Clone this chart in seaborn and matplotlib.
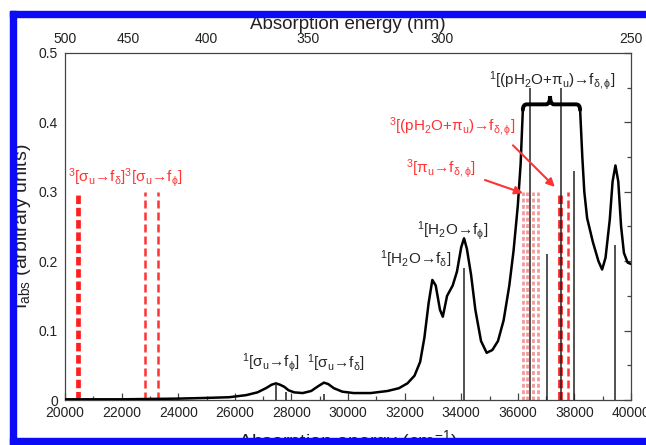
import pandas as pd
import matplotlib
matplotlib.use("Agg")
import matplotlib.pyplot as plt
from matplotlib.patches import Rectangle, PathPatch
from matplotlib.path import Path
from matplotlib.ticker import MultipleLocator, FuncFormatter
import seaborn as sns

# spectrum (two pieces, the peak top is cut by the brace)
spec_cm_a = [20000, 21000, 22000, 23000, 24000, 25000, 25800, 26400, 26800, 27100,
             27300, 27450, 27600, 27750, 27900, 28100, 28400, 28700, 28950, 29150,
             29300, 29500, 29800, 30200, 30800, 31400, 31800, 32100, 32350, 32550,
             32700, 32850, 32980, 33100, 33250, 33350, 33500, 33700, 33850, 34000,
             34100, 34200, 34350, 34500, 34700, 34900, 35100, 35300, 35500, 35700,
             35850, 36000, 36100, 36180]
spec_abs_a = [0.001, 0.001, 0.001, 0.0015, 0.002, 0.003, 0.004, 0.007, 0.011, 0.017,
              0.022, 0.024, 0.022, 0.019, 0.014, 0.011, 0.010, 0.013, 0.020, 0.025,
              0.023, 0.017, 0.012, 0.010, 0.010, 0.013, 0.017, 0.024, 0.035, 0.055,
              0.090, 0.140, 0.173, 0.165, 0.130, 0.120, 0.150, 0.165, 0.185, 0.220,
              0.233, 0.218, 0.180, 0.130, 0.085, 0.068, 0.072, 0.085, 0.115, 0.165,
              0.215, 0.280, 0.340, 0.420]
spec_cm_b = [38200, 38280, 38350, 38450, 38650, 38850, 38980, 39100, 39250, 39350,
             39450, 39550, 39650, 39750, 39880, 40000]
spec_abs_b = [0.420, 0.350, 0.300, 0.262, 0.228, 0.200, 0.188, 0.205, 0.260, 0.315,
              0.338, 0.315, 0.250, 0.212, 0.198, 0.196]

# singlet sticks (black)
stick_cm = [27450, 27800, 29150, 34100, 36430, 37030, 37530, 37990, 39430]
stick_h = [0.022, 0.012, 0.008, 0.19, 0.45, 0.21, 0.45, 0.33, 0.223]

# triplet sticks (red)
trip_bold_cm = [20460, 37480]
trip_bold_h = [0.3, 0.3]
trip_mid_cm = [22830, 23270, 37780]
trip_mid_h = [0.3, 0.3, 0.3]
trip_light_cm = [36200, 36330, 36540, 36700]
trip_light_h = [0.3, 0.3, 0.3, 0.3]

nm_ticks = [500, 450, 400, 350, 300, 250]

sns.set_theme(style="white")
plt.rcParams['font.family'] = ['Liberation Sans', 'DejaVu Sans']
plt.rcParams['mathtext.fontset'] = 'custom'
plt.rcParams['mathtext.rm'] = 'Liberation Sans'
plt.rcParams['mathtext.it'] = 'Liberation Sans:italic'
plt.rcParams['mathtext.bf'] = 'Liberation Sans:bold'
plt.rcParams['mathtext.default'] = 'regular'

fig = plt.figure(figsize=(6.46, 4.45), dpi=100)
ax = fig.add_axes([65/646, 45/445, 566/646, 347/445])

df = pd.DataFrame({
    "cm": spec_cm_a + spec_cm_b,
    "abs": spec_abs_a + spec_abs_b,
    "seg": [0]*len(spec_cm_a) + [1]*len(spec_cm_b),
})

red = '#ff3333'
ax.vlines(trip_light_cm, 0, trip_light_h, color='#f09a9a', lw=2.0,
          linestyles=(0, (1.4, 0.9)), zorder=2)
ax.vlines(trip_mid_cm, 0, trip_mid_h, color=red, lw=1.8,
          linestyles=(0, (3.2, 1.6)), zorder=2)
ax.vlines(trip_bold_cm, 0, trip_bold_h, color='#ff1f1f', lw=3.4,
          linestyles=(0, (1.8, 0.8)), zorder=2)
ax.vlines(stick_cm, 0, stick_h, color='#222222', lw=1.1, zorder=3)
sns.lineplot(data=df, x="cm", y="abs", units="seg", estimator=None,
             color='black', lw=1.8, ax=ax, legend=False, zorder=4)

# curly brace over the cut peak
x0, x1, xm, yb = 36180, 38200, 37140, 0.426
r, h, e = 140, 0.012, 0.008
verts = [(x0, yb - e), (x0, yb), (x0 + r, yb), (xm - r, yb), (xm, yb), (xm, yb + h),
         (xm, yb), (xm + r, yb), (x1 - r, yb), (x1, yb), (x1, yb - e)]
codes = [Path.MOVETO, Path.CURVE3, Path.CURVE3, Path.LINETO, Path.CURVE3, Path.CURVE3,
         Path.CURVE3, Path.CURVE3, Path.LINETO, Path.CURVE3, Path.CURVE3]
ax.add_patch(PathPatch(Path(verts, codes), fill=False, lw=2.8, ec='black',
                       capstyle='round', zorder=5))

fs = 11
ax.text(20100, 0.304, r'$^3$[σ$_u$→f$_\delta$]$^3$[σ$_u$→f$_\phi$]', color=red,
        fontsize=fs, ha='left', va='bottom')
ax.text(27280, 0.037, r'$^1$[σ$_u$→f$_\phi$]', fontsize=fs, ha='center', va='bottom')
ax.text(29580, 0.037, r'$^1$[σ$_u$→f$_\delta$]', fontsize=fs, ha='center', va='bottom')
ax.text(32400, 0.188, r'$^1$[H$_2$O→f$_\delta$]', fontsize=fs, ha='center', va='bottom')
ax.text(33680, 0.228, r'$^1$[H$_2$O→f$_\phi$]', fontsize=fs, ha='center', va='bottom')
ax.text(37210, 0.444, r'$^1$[(pH$_2$O+π$_u$)→f$_{\delta,\phi}$]', fontsize=fs,
        ha='center', va='bottom')
ax.text(33680, 0.377, r'$^3$[(pH$_2$O+π$_u$)→f$_{\delta,\phi}$]', color=red,
        fontsize=fs, ha='center', va='bottom')
ax.text(33290, 0.317, r'$^3$[π$_u$→f$_{\delta,\phi}$]', color=red,
        fontsize=fs, ha='center', va='bottom')

arrow = dict(arrowstyle='-|>', color=red, lw=1.5, mutation_scale=12, shrinkA=0, shrinkB=0)
ax.annotate('', xy=(37310, 0.307), xytext=(35830, 0.367), arrowprops=arrow, zorder=6)
ax.annotate('', xy=(36180, 0.298), xytext=(34840, 0.317), arrowprops=arrow, zorder=6)

ax.set_xlim(20000, 40000)
ax.set_ylim(0, 0.5)
ax.xaxis.set_major_locator(MultipleLocator(2000))
ax.xaxis.set_minor_locator(MultipleLocator(1000))
ax.yaxis.set_major_locator(MultipleLocator(0.1))
ax.yaxis.set_minor_locator(MultipleLocator(0.05))
ax.yaxis.set_major_formatter(FuncFormatter(lambda v, _: '0' if abs(v) < 1e-9 else f'{v:.1f}'))
ax.tick_params(which='both', direction='in', top=True, right=True, color='#444444',
               width=0.9, labelsize=10, labelcolor='#222222')
ax.tick_params(which='major', length=5)
ax.tick_params(which='minor', length=3)
ax.tick_params(axis='x', pad=4)
ax.tick_params(axis='y', pad=5)
for s in ax.spines.values():
    s.set_color('#444444')
    s.set_linewidth(0.9)

ax.set_xlabel(r'Absorption energy (cm$^{-1}$)', fontsize=14, color='#222222')
ax.xaxis.set_label_coords(0.5, -0.082)
ax.set_ylabel(r'I$_{abs}$ (arbitrary units)', fontsize=14, color='#222222')
ax.yaxis.set_label_coords(-0.056, 0.5)

ax_top = ax.twiny()
ax_top.set_xlim(ax.get_xlim())
ax_top.set_xticks([1e7 / n for n in nm_ticks])
ax_top.set_xticklabels([str(n) for n in nm_ticks])
ax_top.tick_params(axis='x', length=0, pad=5, labelsize=10, labelcolor='#222222')
ax_top.set_xlabel('Absorption energy (nm)', fontsize=13.5, color='#222222')
ax_top.xaxis.set_label_coords(0.5, 1.068)
for s in ax_top.spines.values():
    s.set_visible(False)

# blue frame around the figure
blue = '#0b0bf5'
W, H = 646, 445
fig.add_artist(Rectangle((10/W, 0), 6/W, (H - 11)/H, transform=fig.transFigure,
                         color=blue, zorder=10))
fig.add_artist(Rectangle((10/W, (H - 17)/H), 1, 6/H, transform=fig.transFigure,
                         color=blue, zorder=10))
fig.add_artist(Rectangle((10/W, 1/H), 1, 6/H, transform=fig.transFigure,
                         color=blue, zorder=10))

fig.savefig("out.png", dpi=100)
